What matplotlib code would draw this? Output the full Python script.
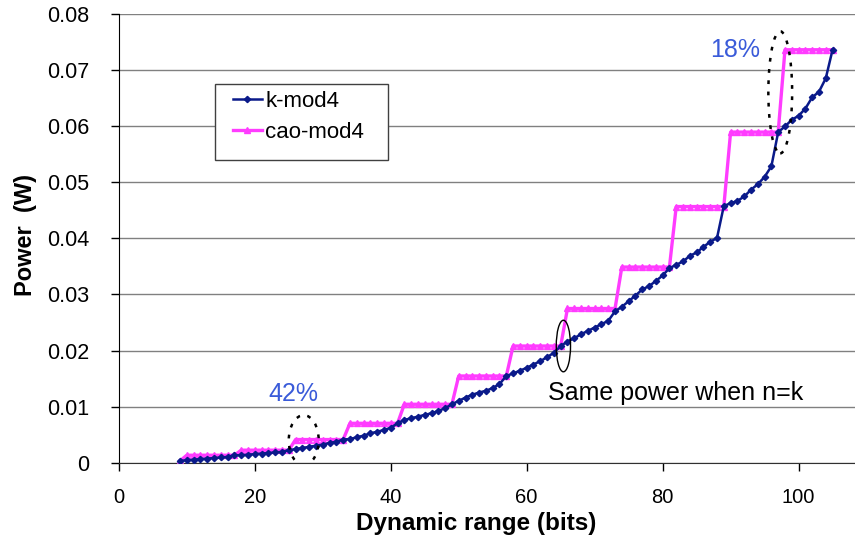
import matplotlib
matplotlib.use("Agg")
import matplotlib.pyplot as plt
from matplotlib.patches import Ellipse, Rectangle
from matplotlib.ticker import FuncFormatter

plt.rcParams['font.family'] = ['Liberation Sans', 'DejaVu Sans']

bits = list(range(9, 106))

k_mod4 = [
    0.0003, 0.0004, 0.0005, 0.0006, 0.0007, 0.0008, 0.0009, 0.0010, 0.0013,   # 9-17
    0.0013, 0.0014, 0.0015, 0.0016, 0.0017, 0.0018, 0.0019, 0.0022,           # 18-25
    0.0024, 0.0026, 0.0028, 0.0030, 0.0032, 0.0035, 0.0037, 0.0041,           # 26-33
    0.0042, 0.0045, 0.0048, 0.0052, 0.0055, 0.0058, 0.0062, 0.0070,           # 34-41
    0.0076, 0.0079, 0.0082, 0.0085, 0.0088, 0.0092, 0.0097, 0.0104,           # 42-49
    0.0110, 0.0116, 0.0121, 0.0125, 0.0128, 0.0133, 0.0140, 0.01545,          # 50-57
    0.0159, 0.0164, 0.0169, 0.0175, 0.0181, 0.0188, 0.0196, 0.0208,           # 58-65
    0.0216, 0.0222, 0.0229, 0.0235, 0.0241, 0.0247, 0.0253, 0.0270,           # 66-73
    0.0278, 0.0288, 0.0298, 0.0309, 0.0315, 0.0324, 0.0334, 0.0347,           # 74-81
    0.0353, 0.0359, 0.0369, 0.0375, 0.0385, 0.0394, 0.0401, 0.0458,           # 82-89
    0.0463, 0.0467, 0.0475, 0.0487, 0.0497, 0.0510, 0.0529, 0.0590,           # 90-97
    0.0600, 0.0612, 0.0619, 0.0632, 0.0652, 0.0662, 0.0686, 0.0737,           # 98-105
]

cao_levels = [0.0013, 0.0022, 0.0041, 0.0070, 0.0104, 0.01545,
              0.0208, 0.0275, 0.0349, 0.0457, 0.0590, 0.0737]
cao_mod4 = [0.0003]
for lvl in cao_levels:
    cao_mod4 += [lvl] * 8

yticks = [0, 0.01, 0.02, 0.03, 0.04, 0.05, 0.06, 0.07, 0.08]
xticks = [0, 20, 40, 60, 80, 100]

fig = plt.figure(figsize=(8.55, 5.4), dpi=100)
ax = fig.add_axes([0.139, 0.1435, 0.861, 0.8297])

ax.plot(bits, k_mod4, color='#0A1A8A', lw=1.8, marker='D', ms=3.2,
        mec='#0A1A8A', mfc='#0A1A8A', label='k-mod4', zorder=4)
ax.plot(bits, cao_mod4, color='#FF3CFF', lw=2.4, marker='^', ms=3.8,
        mec='#FF3CFF', mfc='#FF3CFF', label='cao-mod4', zorder=3)

ax.set_xlim(0, 108.3)
ax.set_ylim(0, 0.08)
ax.set_xticks(xticks)
ax.set_yticks(yticks)
ax.yaxis.set_major_formatter(FuncFormatter(lambda v, p: '0' if v == 0 else f'{v:.2f}'))
ax.grid(axis='y', color='#808080', lw=1.0, zorder=0.5)
ax.set_axisbelow(True)
for s in ['top', 'right']:
    ax.spines[s].set_visible(False)
ax.spines['left'].set_color('black')
ax.spines['bottom'].set_color('#303030')
ax.tick_params(axis='both', direction='out', length=5.5, width=1, colors='black')
ax.tick_params(axis='y', pad=16, labelsize=15.5)
ax.tick_params(axis='x', pad=13, labelsize=14.5)

ax.set_xlabel('Dynamic range (bits)', fontsize=17.5, fontweight='bold')
ax.xaxis.set_label_coords(0.486, -0.11)
ax.set_ylabel('Power  (W)', fontsize=17, fontweight='bold')
ax.yaxis.set_label_coords(-0.111, 0.508)

# legend frame and entries
ax.add_patch(Rectangle((0.1304, 0.675), 0.235, 0.1696, transform=ax.transAxes,
                       facecolor='white', edgecolor='#404040', lw=1.0, zorder=2))
leg = ax.legend(loc='upper left', bbox_to_anchor=(0.155, 0.83), fontsize=16,
                frameon=False, borderpad=0, borderaxespad=0,
                handlelength=1.3, handletextpad=0.15, labelspacing=0.45)
leg.set_zorder(6)

ax.text(25.7, 0.0123, '42%', color='#3A5BD9', fontsize=18, ha='center', va='center')
ax.text(90.6, 0.0737, '18%', color='#3A5BD9', fontsize=18, ha='center', va='center')
ax.text(81.9, 0.0124, 'Same power when n=k', color='black', fontsize=18,
        ha='center', va='center')

ax.add_patch(Ellipse((27.2, 0.0040), 4.4, 0.0089, fill=False, ec='black',
                     lw=1.8, ls=(0, (1.5, 3)), zorder=5))
ax.add_patch(Ellipse((65.4, 0.0208), 2.1, 0.0092, fill=False, ec='black',
                     lw=1.0, zorder=5))
ax.add_patch(Ellipse((97.3, 0.0661), 3.5, 0.0218, fill=False, ec='black',
                     lw=1.8, ls=(0, (1.5, 3)), zorder=5))

fig.savefig('out.png', dpi=100)
